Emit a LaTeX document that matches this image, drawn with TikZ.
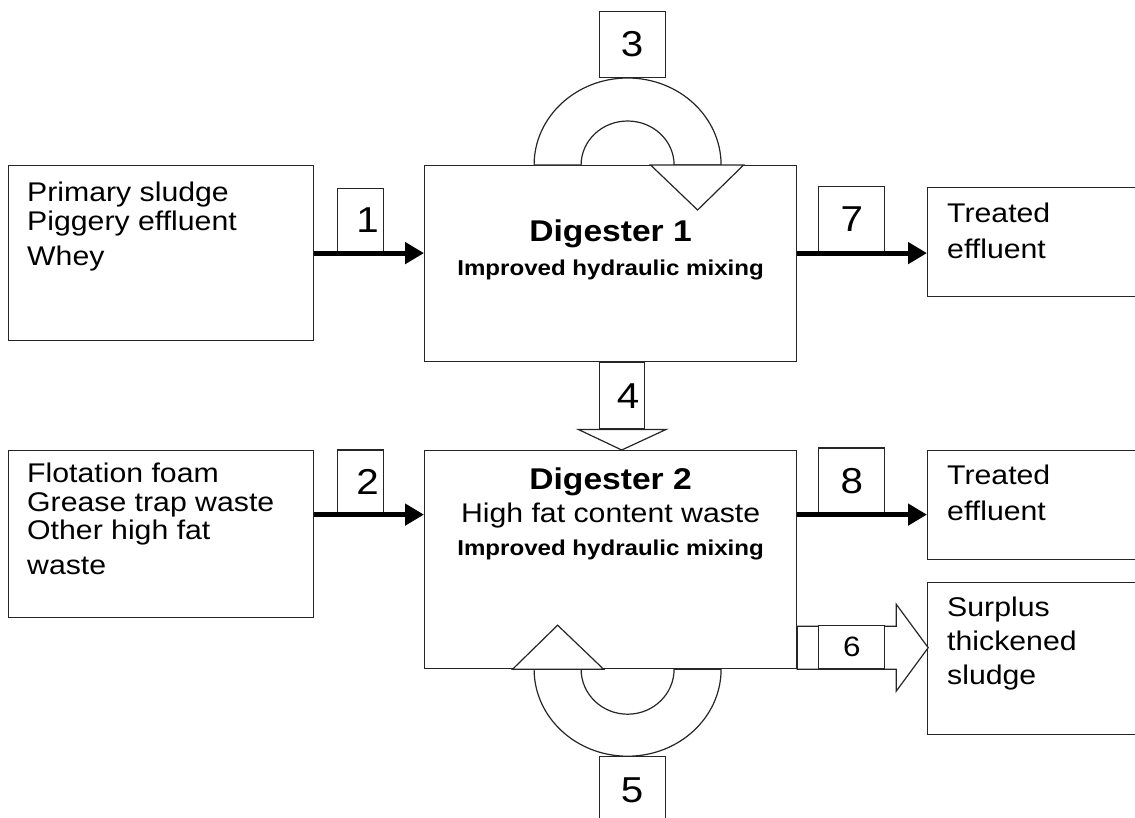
\documentclass[tikz,border=0pt]{standalone}
\usepackage{fontspec}
\setmainfont{Liberation Sans}[FakeStretch=1.12]
\usetikzlibrary{arrows.meta,positioning}
\definecolor{inkgray}{HTML}{262626}

\begin{document}
\begin{tikzpicture}[x=1pt,y=-1pt,
    box/.style={draw=inkgray,line width=1.2pt,fill=white,inner sep=0pt,anchor=north west},
    numbox/.style={box,minimum width=66pt,minimum height=66pt,font=\fontsize{36}{36}\selectfont},
    narrow/.style={numbox,minimum width=46pt,text width=36pt,align=right,inner xsep=5pt},
    txt/.style={inner sep=0pt,anchor=north west,align=left,font=\fontsize{27}{28.5}\selectfont},
    dtxt/.style={inner sep=0pt,anchor=north,align=center},
    flow/.style={line width=5pt,-{Triangle[length=19pt,width=21pt]}},
    band/.style={draw=inkgray,line width=1.2pt,fill=white,line join=miter}]
    \useasboundingbox (0,0) rectangle (1135,817);
    \clip (0,0) rectangle (1135,817);
    \node[box,minimum width=305pt,minimum height=175pt] (src1) at (8,165) {};
    \node[box,minimum width=305pt,minimum height=167pt] (src2) at (8,450) {};
    \node[box,minimum width=372pt,minimum height=196pt] (dig1) at (424,165) {};
    \node[box,minimum width=372pt,minimum height=218pt] (dig2) at (424,450) {};
    \node[box,minimum width=230pt,minimum height=109pt] (out1) at (927,187) {};
    \node[box,minimum width=230pt,minimum height=109pt] (out2) at (927,450) {};
    \node[box,minimum width=230pt,minimum height=152pt] (out3) at (927,582) {};
    \node[txt] (src1txt) at ([shift={(19,17)}]src1.north west) {Primary sludge\\Piggery effluent\\[6.5pt]Whey};
    \node[txt] (src2txt) at ([shift={(19,13)}]src2.north west) {Flotation foam\\Grease trap waste\\Other high fat\\[6.5pt]waste};
    \node[txt,font=\fontsize{27}{36}\selectfont] (out1txt) at ([shift={(20,16)}]out1.north west) {Treated\\effluent};
    \node[txt,font=\fontsize{27}{36}\selectfont] (out2txt) at ([shift={(20,15)}]out2.north west) {Treated\\effluent};
    \node[txt,font=\fontsize{27}{34}\selectfont] (out3txt) at ([shift={(20,15)}]out3.north west) {Surplus\\thickened\\sludge};
    \node[dtxt,font=\fontsize{27}{34}\selectfont,below=55pt of dig1.north] (dig1txt)
        {{\bfseries\fontsize{30}{34}\selectfont Digester 1}\\{\bfseries\fontsize{21.5}{34}\selectfont Improved hydraulic mixing}};
    \node[dtxt,font=\fontsize{27}{33}\selectfont,below=18pt of dig2.north] (dig2txt)
        {{\bfseries\fontsize{30}{33}\selectfont Digester 2}\\High fat content waste\\{\bfseries\fontsize{21.5}{33}\selectfont Improved hydraulic mixing}};
    \coordinate (l1) at ([xshift=17pt]dig1.north);
    \coordinate (l2) at ([xshift=17pt]dig2.south);
    \draw[band] ([xshift=-93.5pt]l1) arc[start angle=180,end angle=0,x radius=93.5pt,y radius=87pt]
        -- ([xshift=46.5pt]l1) arc[start angle=0,end angle=180,x radius=46.5pt,y radius=44pt] -- cycle;
    \draw[band] ([xshift=23pt]l1) -- ([xshift=116pt]l1) -- ([shift={(70,45)}]l1) -- cycle;
    \draw[band] ([xshift=-93.5pt]l2) arc[start angle=180,end angle=360,x radius=93.5pt,y radius=87pt]
        -- ([xshift=46.5pt]l2) arc[start angle=360,end angle=180,x radius=46.5pt,y radius=45pt] -- cycle;
    \draw[band] ([xshift=-115pt]l2) -- ([xshift=-24pt]l2) -- ([shift={(-70,-44)}]l2) -- cycle;
    \draw[band] (dig2.south east) -- ++(0,-43) -- ++(99,0) -- ++(0,-22) -- ++(32,43.5) -- ++(-32,43.5) -- ++(0,-22) -- cycle;
    \coordinate (row1) at (dig1.east |- src1.east);
    \coordinate (row2) at ([yshift=19.5pt]src2.east);
    \coordinate (row3) at (dig2.east |- row2);
    \node[narrow,minimum height=64pt,above right=0pt and 23pt of src1.east] (n1) {1};
    \node[narrow,minimum height=64pt,above right=0pt and 23pt of row2] (n2) {2};
    \node[numbox,anchor=south west] (n3) at ([shift={(-29,-87)}]l1) {3};
    \node[narrow,minimum width=45pt,text width=35pt,anchor=north west] (n4) at ([xshift=-12pt]dig1.south) {4};
    \node[numbox,anchor=north west] (n5) at ([shift={(-29,87)}]l2) {5};
    \node[numbox,minimum height=43pt,font=\fontsize{28}{28}\selectfont,above right=0pt and 21pt of dig2.south east] (n6) {6};
    \node[numbox,above right=0pt and 21pt of row1] (n7) {7};
    \node[numbox,above right=0pt and 21pt of row3] (n8) {8};
    \draw[band] ([xshift=-43.5pt]n4.south) -- ([xshift=44.5pt]n4.south) -- (n4.south |- dig2.north) -- cycle;
    \draw[flow] (src1.east) -- (src1.east -| dig1.west);
    \draw[flow] (row2) -- (row2 -| dig2.west);
    \draw[flow] (row1) -- (row1 -| out1.west);
    \draw[flow] (row3) -- (row3 -| out2.west);
\end{tikzpicture}
\end{document}
